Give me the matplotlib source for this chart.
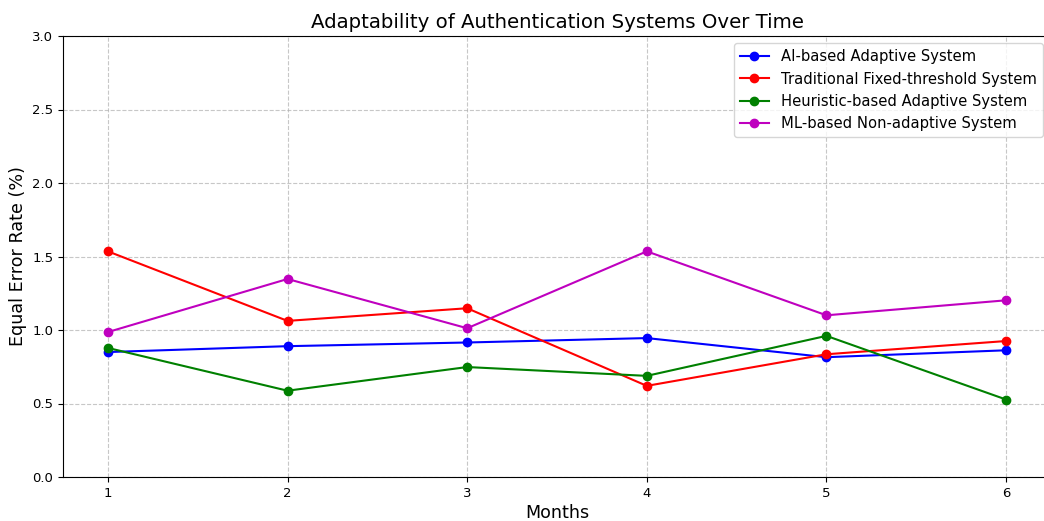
import matplotlib
matplotlib.use('Agg')
import matplotlib.pyplot as plt

months = [1, 2, 3, 4, 5, 6]
ai_adaptive = [0.85, 0.89, 0.915, 0.945, 0.815, 0.862]
traditional = [1.535, 1.062, 1.148, 0.62, 0.835, 0.925]
heuristic = [0.878, 0.587, 0.748, 0.688, 0.96, 0.527]
ml_nonadaptive = [0.986, 1.347, 1.012, 1.535, 1.1, 1.202]

fig = plt.figure(figsize=(10.44, 5.21), dpi=100)
# the original picture is cut on the right, so the axes run past the edge
ax = fig.add_axes([63/1044, 44/521, 988/1044, 441/521])

ax.plot(months, ai_adaptive, 'o-', color='b', label='AI-based Adaptive System')
ax.plot(months, traditional, 'o-', color='r', label='Traditional Fixed-threshold System')
ax.plot(months, heuristic, 'o-', color='g', label='Heuristic-based Adaptive System')
ax.plot(months, ml_nonadaptive, 'o-', color='m', label='ML-based Non-adaptive System')

ax.set_ylim(0, 3.0)
ax.set_xticks(months)
ax.tick_params(labelsize=9.5)
ax.set_title('Adaptability of Authentication Systems Over Time', fontsize=14.2)
ax.set_xlabel('Months', fontsize=12.6, labelpad=3)
ax.set_ylabel('Equal Error Rate (%)', fontsize=12.6)
ax.grid(True, linestyle='--', alpha=0.7)
ax.legend(loc='upper right', fontsize=10.6, bbox_to_anchor=(0.999, 1.0))

fig.savefig('out.png', dpi=100)
